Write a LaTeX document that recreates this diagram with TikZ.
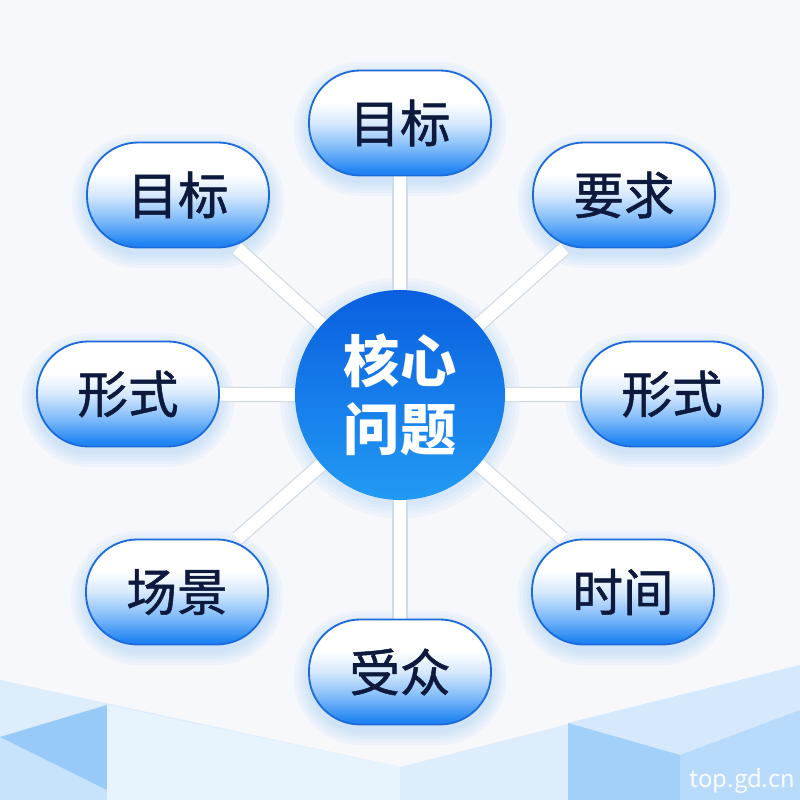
\documentclass[tikz,border=0pt]{standalone}
\usepackage{fontspec}
\setmainfont{Noto Sans CJK SC}
\newfontfamily\pillfont{Noto Sans CJK SC}[FakeBold=1]
\usetikzlibrary{positioning}

\definecolor{paper}{HTML}{F6F8FC}
\definecolor{inkblue}{HTML}{0E1A3D}
\definecolor{pillrim}{HTML}{1C6BDA}
\definecolor{pilldeep}{HTML}{2284F2}
\definecolor{pillsky}{HTML}{7DBAF9}
\definecolor{pillpale}{HTML}{D7E9FD}
\definecolor{coretop}{HTML}{0A5FE0}
\definecolor{corebot}{HTML}{229AF4}
\definecolor{glowblue}{HTML}{5AA8F6}
\definecolor{wiregray}{HTML}{D2DBE8}
\definecolor{polylight}{HTML}{DDEDFC}
\definecolor{polymid}{HTML}{B9DBFB}
\definecolor{polydark}{HTML}{8CC4F6}

\pgfdeclareverticalshading{pillfade}{100bp}{color(0bp)=(pilldeep); color(27bp)=(pilldeep); color(38bp)=(pillsky); color(50bp)=(pillpale); color(60bp)=(white); color(100bp)=(white)}

\pgfdeclarelayer{back}
\pgfdeclarelayer{wires}
\pgfsetlayers{back,wires,main}

\tikzset{
  pill/.style={rectangle, rounded corners=1.28cm, minimum width=4.55cm, minimum height=2.625cm,
    draw=pillrim, line width=1.3pt, shading=pillfade, text=inkblue,
    font=\fontsize{36}{40}\pillfont},
  core/.style={circle, minimum size=5.25cm, inner sep=0pt, top color=coretop, bottom color=corebot,
    text=white, align=center, font=\fontsize{40}{48}\selectfont\bfseries},
  wire/.style={draw=wiregray, line width=0.9pt, double=white, double distance=0.32cm},
  glow/.style={fill=glowblue, opacity=0.05}
}

% pill node with a soft blue haze under it
\newcommand{\topicpill}[3]{%
  \begin{pgfonlayer}{back}
    \foreach \g in {0.06,0.14,0.22,0.30,0.38}
      \fill[glow, shift={(#2)}, rounded corners={(1.3+\g)*1cm}]
        (-2.275-\g,-1.45-\g) rectangle (2.275+\g,1.15+\g);
  \end{pgfonlayer}
  \node[pill] (#1) at (#2) {#3};
}

\begin{document}
\begin{tikzpicture}[scale=1.0]
\useasboundingbox (0,0) rectangle (20,20);

% background and low-poly floor
\begin{pgfonlayer}{back}
\fill[paper] (0,0) rectangle (20,20);
\fill[polylight] (0,3.0) -- (10,0.825) -- (10,0) -- (0,0) -- cycle;
\fill[polymid, opacity=0.6] (0,1.575) -- (2.675,2.375) -- (2.675,0) -- (0,0) -- cycle;
\fill[polydark, opacity=0.8] (0,1.575) -- (2.675,2.375) -- (2.675,0.25) -- cycle;
\fill[polylight!70!white] (2.675,2.375) -- (10,0.825) -- (10,0) -- (2.675,0) -- cycle;
\fill[polylight] (10,0.825) -- (20,3.375) -- (20,0) -- (10,0) -- cycle;
\fill[polylight!80!polymid] (14.2,1.925) -- (20,3.375) -- (20,2.25) -- (17,1.125) -- cycle;
\fill[polydark!80!white] (14.2,1.925) -- (17,1.125) -- (17,0) -- (14.2,0) -- cycle;
\fill[polymid] (17,1.125) -- (20,2.25) -- (20,0) -- (17,0) -- cycle;
\foreach \g in {0.08,0.18,0.28,0.38}
  \fill[glow] (10,10.05) circle (2.625+\g);
\end{pgfonlayer}

\node[core] (core) at (10,10.125) {核心\\问题};

\topicpill{goaltop}{10,16.925}{目标}
\topicpill{goalleft}{4.45,15.125}{目标}
\topicpill{demand}{15.6,15.125}{要求}
\topicpill{formleft}{3.2,10.15}{形式}
\topicpill{formright}{16.8,10.15}{形式}
\topicpill{scene}{4.425,5.2}{场景}
\topicpill{timing}{15.575,5.2}{时间}
\topicpill{audience}{10,3.2}{受众}

\begin{pgfonlayer}{wires}
\foreach \t in {goaltop,goalleft,demand,formleft,formright,scene,timing,audience}
  \draw[wire] (core) -- (\t);
\end{pgfonlayer}

\node[anchor=south east, text=white!92!polymid, font=\fontsize{17}{20}\selectfont] (mark) at (20,0.05) {top.gd.cn};
\end{tikzpicture}
\end{document}
